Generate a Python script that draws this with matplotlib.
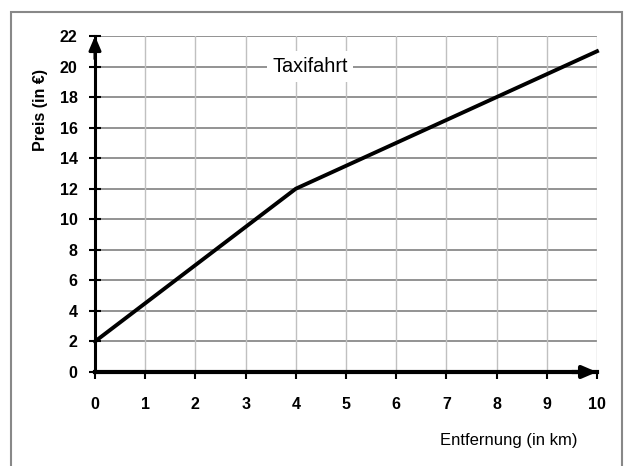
import matplotlib
matplotlib.use("Agg")
import matplotlib.pyplot as plt
from matplotlib.patches import Rectangle
from matplotlib import font_manager

distance_km = [0, 1, 2, 3, 4, 5, 6, 7, 8, 9, 10]
price_eur = [2, 4.5, 7, 9.5, 12, 13.5, 15, 16.5, 18, 19.5, 21]
x_ticks = list(range(0, 11))
y_ticks = list(range(0, 23, 2))

plt.rcParams['font.family'] = ['Liberation Sans', 'DejaVu Sans']
names = {f.name for f in font_manager.fontManager.ttflist}
has_narrow = 'Liberation Sans Narrow' in names
title_family = ['Liberation Sans Narrow', 'Liberation Sans'] if has_narrow else ['Liberation Sans']
title_size = 16.5 if has_narrow else 14.3

fig = plt.figure(figsize=(6.25, 4.66), dpi=100)
fig.patches.append(Rectangle((11/625, -0.01), (622-11)/625, 1 - 12/466 + 0.01,
                             transform=fig.transFigure, fill=False,
                             edgecolor='#888888', linewidth=1.5))

ax = fig.add_axes([95/625, 1 - 372/466, (597-95)/625, (372-36)/466])
ax.set_xlim(0, 10)
ax.set_ylim(0, 22)
ax.set_xticks(x_ticks)
ax.set_yticks(y_ticks)
ax.set_xticklabels([str(v) for v in x_ticks], fontsize=11.5, fontweight='bold')
ax.set_yticklabels([str(v) for v in y_ticks], fontsize=11.5, fontweight='bold')
for v in y_ticks[1:]:
    ax.axhline(v, color='#808080', linewidth=1.2, zorder=1)
for v in x_ticks[1:]:
    ax.axvline(v, color='#c0c0c0', linewidth=1.0, zorder=1)

for s in ['top', 'right']:
    ax.spines[s].set_visible(False)
ax.spines['left'].set_linewidth(2.2)
ax.spines['bottom'].set_linewidth(3)
ax.spines['left'].set_zorder(4)
ax.spines['bottom'].set_zorder(4)
ax.tick_params(axis='x', direction='out', length=5, width=1.5, color='black', pad=13)
ax.tick_params(axis='y', direction='inout', length=9, width=1.5, color='black', pad=8)

ax.annotate('', xy=(10, 0), xytext=(9.5, 0), xycoords='data',
            arrowprops=dict(arrowstyle='-|>,head_length=0.7,head_width=0.3', color='black',
                            lw=3, mutation_scale=12, shrinkA=0, shrinkB=0),
            annotation_clip=False, zorder=5)
ax.annotate('', xy=(0, 22), xytext=(0, 20.5), xycoords='data',
            arrowprops=dict(arrowstyle='-|>,head_length=0.7,head_width=0.3', color='black',
                            lw=2.2, mutation_scale=12, shrinkA=0, shrinkB=0),
            annotation_clip=False, zorder=5)

ax.plot(distance_km, price_eur, color='black', linewidth=2.8, zorder=3, clip_on=False,
        solid_joinstyle='round')

ax.text(4.28, 20, 'Taxifahrt', fontsize=title_size, family=title_family,
        ha='center', va='center',
        bbox=dict(facecolor='white', edgecolor='none', pad=4), zorder=2)

fig.text(41/625, 1 - 110/466, 'Preis (in €)', fontsize=11.5, fontweight='bold',
         rotation=90, ha='center', va='center')
fig.text(577/625, 1 - 441/466, 'Entfernung (in km)', fontsize=12, ha='right', va='center')

fig.savefig('out.png', dpi=100)
